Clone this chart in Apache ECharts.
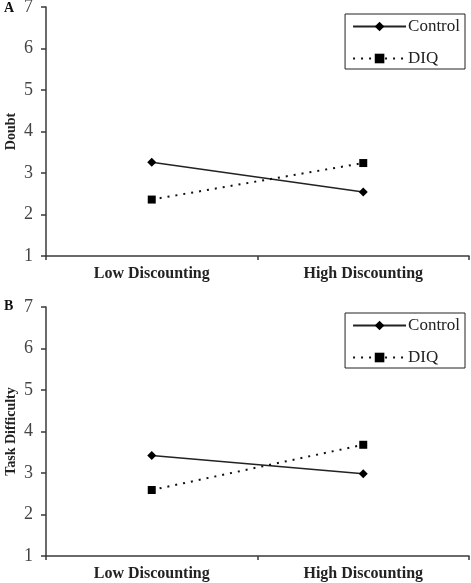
<!DOCTYPE html>
<html>
<head>
<meta charset="utf-8">
<script src="https://cdn.jsdelivr.net/npm/echarts@6/dist/echarts.min.js"></script>
<style>html,body{margin:0;padding:0;background:#fff}#c{width:471px;height:583px}</style>
</head>
<body>
<div id="c"></div>
<script>
const categories = ['Low Discounting', 'High Discounting'];
const seriesNames = ['Control', 'DIQ'];
const doubtControl = [3.26, 2.54];
const doubtDIQ = [2.36, 3.24];
const difficultyControl = [3.42, 2.98];
const difficultyDIQ = [2.59, 3.68];
const yTicks = [1, 7, 1]; // min, max, interval
const panelTitles = ['Doubt', 'Task Difficulty'];
const panelLetters = ['A', 'B'];

const serif = '"Liberation Serif", "Times New Roman", serif';
const axisColor = '#3a3a3a';

function xAxis(gi) {
  return {
    type: 'category', gridIndex: gi, data: categories, boundaryGap: true,
    axisLine: { lineStyle: { color: axisColor, width: 1.5 } },
    axisTick: { show: true, inside: false, length: 4, lineStyle: { color: axisColor, width: 1.5 } },
    axisLabel: { fontFamily: serif, fontWeight: 'bold', fontSize: 16, color: '#222', margin: 10 }
  };
}
function yAxis(gi, name) {
  return {
    type: 'value', gridIndex: gi, min: yTicks[0], max: yTicks[1], interval: yTicks[2],
    name: name, nameLocation: 'middle', nameRotate: 90, nameGap: 28, nameMoveOverlap: false,
    nameTextStyle: { fontFamily: serif, fontWeight: 'bold', fontSize: 14, color: '#222' },
    axisLine: { show: true, lineStyle: { color: axisColor, width: 1.5 } },
    axisTick: { show: true, inside: false, length: 5, lineStyle: { color: axisColor, width: 1.5 } },
    axisLabel: { fontFamily: serif, fontSize: 18, color: '#444', margin: 13 },
    splitLine: { show: false }
  };
}
function lineSeries(name, data, gi, dotted) {
  return {
    type: 'line', name: name, data: data, xAxisIndex: gi, yAxisIndex: gi,
    symbol: dotted ? 'rect' : 'diamond',
    symbolSize: dotted ? 8 : [9, 9],
    itemStyle: { color: '#000' },
    lineStyle: dotted ? { color: '#111', width: 2, type: [2, 6] } : { color: '#222', width: 1.5, type: 'solid' },
    animation: false
  };
}
function legend(top) {
  return {
    data: seriesNames, orient: 'vertical', right: 6, top: top,
    borderColor: '#222', borderWidth: 1, padding: [4, 5, 2, 7],
    itemWidth: 53, itemHeight: 12, itemGap: 15,
    textStyle: { fontFamily: serif, fontSize: 17, color: '#222', padding: [0, 0, 0, -3] },
    selectedMode: false
  };
}

const chart = echarts.init(document.getElementById('c'));
chart.setOption({
  backgroundColor: '#fff',
  animation: false,
  grid: [
    { left: 46, right: 2, top: 7, height: 249, outerBoundsMode: 'none', containLabel: false },
    { left: 46, right: 2, top: 307, height: 249, outerBoundsMode: 'none', containLabel: false }
  ],
  xAxis: [xAxis(0), xAxis(1)],
  yAxis: [yAxis(0, panelTitles[0]), yAxis(1, panelTitles[1])],
  legend: [legend(14), legend(313)],
  series: [
    lineSeries(seriesNames[0], doubtControl, 0, false),
    lineSeries(seriesNames[1], doubtDIQ, 0, true),
    lineSeries(seriesNames[0], difficultyControl, 1, false),
    lineSeries(seriesNames[1], difficultyDIQ, 1, true)
  ],
  graphic: [
    { type: 'text', left: 4, top: 1, style: { text: panelLetters[0], font: 'bold 14px ' + serif, fill: '#111' } },
    { type: 'text', left: 4, top: 299, style: { text: panelLetters[1], font: 'bold 14px ' + serif, fill: '#111' } }
  ]
});
</script>
</body>
</html>
